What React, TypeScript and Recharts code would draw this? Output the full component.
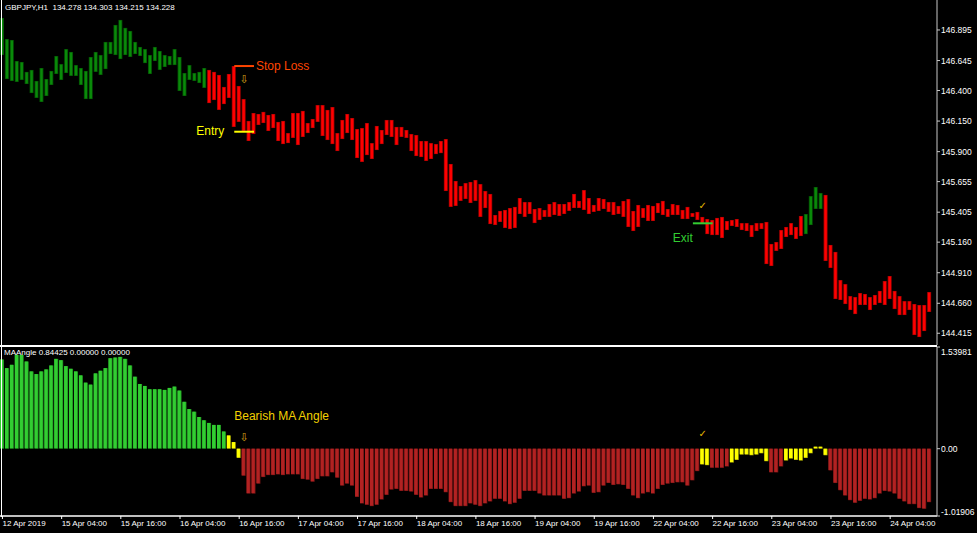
import React from "react";
import { ComposedChart, Bar, XAxis, YAxis, ReferenceLine, ReferenceDot } from "recharts";

// price bars (top / bottom of each H1 bar body)
const barTop = [
  146.993, 146.821, 146.813, 146.641, 146.633, 146.552, 146.568, 146.478, 146.584, 146.494,
  146.560, 146.682, 146.616, 146.739, 146.715, 146.608, 146.584, 146.560, 146.674, 146.715,
  146.690, 146.797, 146.797, 146.936, 146.977, 146.912, 146.887, 146.797, 146.756, 146.739,
  146.690, 146.756, 146.723, 146.690, 146.682, 146.739, 146.674, 146.543, 146.608, 146.543,
  146.552, 146.584, 146.568, 146.552, 146.527, 146.429, 146.535, 146.600, 146.437, 146.330,
  146.151, 146.216, 146.208, 146.225, 146.200, 146.208, 146.143, 146.151, 146.052, 146.216,
  146.216, 146.233, 146.134, 146.167, 146.281, 146.281, 146.241, 146.265, 146.052, 146.159,
  146.208, 146.175, 146.085, 146.093, 146.134, 145.970, 146.110, 146.077, 146.159, 146.159,
  146.102, 146.102, 146.077, 146.044, 146.036, 145.987, 145.987, 145.970, 145.962, 145.987,
  146.003, 145.799, 145.660, 145.619, 145.643, 145.652, 145.668, 145.635, 145.578, 145.554,
  145.382, 145.415, 145.423, 145.439, 145.448, 145.521, 145.488, 145.488, 145.431, 145.439,
  145.423, 145.472, 145.488, 145.472, 145.472, 145.488, 145.554, 145.497, 145.586, 145.521,
  145.464, 145.521, 145.513, 145.488, 145.488, 145.456, 145.497, 145.513, 145.415, 145.464,
  145.439, 145.464, 145.456, 145.480, 145.497, 145.431, 145.472, 145.464, 145.423, 145.448,
  145.398, 145.407, 145.366, 145.349, 145.341, 145.358, 145.366, 145.333, 145.341, 145.349,
  145.316, 145.316, 145.300, 145.316, 145.316, 145.325, 145.145, 145.161, 145.259, 145.284,
  145.316, 145.284, 145.374, 145.390, 145.537, 145.611, 145.562, 145.546, 145.137, 145.080,
  144.850, 144.817, 144.719, 144.711, 144.744, 144.736, 144.711, 144.728, 144.761, 144.842,
  144.883, 144.761, 144.719, 144.678, 144.678, 144.654, 144.646, 144.646, 144.752,
];
const barBottom = [
  146.690, 146.494, 146.478, 146.470, 146.486, 146.453, 146.379, 146.339, 146.306, 146.355,
  146.445, 146.535, 146.486, 146.543, 146.519, 146.519, 146.445, 146.330, 146.330, 146.552,
  146.527, 146.575, 146.698, 146.690, 146.657, 146.690, 146.674, 146.698, 146.682, 146.624,
  146.535, 146.641, 146.568, 146.592, 146.608, 146.608, 146.396, 146.355, 146.486, 146.478,
  146.461, 146.421, 146.297, 146.322, 146.241, 146.289, 146.339, 146.102, 146.143, 146.069,
  145.987, 146.044, 146.118, 146.134, 146.069, 146.093, 145.987, 145.962, 145.970, 146.012,
  145.954, 146.020, 146.052, 146.093, 146.143, 146.028, 145.995, 145.962, 145.905, 146.003,
  146.052, 145.995, 145.848, 145.816, 145.872, 145.840, 145.913, 145.962, 146.036, 146.020,
  145.954, 146.020, 146.012, 145.905, 145.864, 145.856, 145.824, 145.840, 145.880, 145.888,
  145.578, 145.448, 145.456, 145.497, 145.513, 145.480, 145.497, 145.366, 145.439, 145.308,
  145.300, 145.325, 145.276, 145.267, 145.276, 145.390, 145.366, 145.390, 145.316, 145.341,
  145.366, 145.366, 145.382, 145.374, 145.390, 145.415, 145.439, 145.439, 145.423, 145.390,
  145.407, 145.415, 145.431, 145.407, 145.382, 145.390, 145.366, 145.284, 145.251, 145.284,
  145.358, 145.333, 145.333, 145.398, 145.382, 145.366, 145.382, 145.382, 145.349, 145.349,
  145.366, 145.341, 145.308, 145.226, 145.218, 145.218, 145.194, 145.259, 145.292, 145.284,
  145.259, 145.251, 145.202, 145.251, 145.267, 144.981, 144.965, 145.088, 145.104, 145.202,
  145.218, 145.186, 145.210, 145.226, 145.300, 145.431, 145.431, 145.006, 144.949, 144.695,
  144.687, 144.654, 144.605, 144.572, 144.646, 144.646, 144.605, 144.646, 144.662, 144.646,
  144.695, 144.613, 144.564, 144.564, 144.605, 144.401, 144.384, 144.433, 144.589,
];
// colour runs of the price bars
const trendRuns: [string, number][] = [["up", 42], ["down", 121], ["up", 4], ["down", 22]];

// MA Angle histogram
const maAngle = [
  1.35, 1.22, 1.27, 1.42, 1.42, 1.32, 1.17, 1.13, 1.17, 1.20,
  1.26, 1.36, 1.34, 1.25, 1.21, 1.17, 1.11, 1.00, 0.97, 1.14,
  1.18, 1.22, 1.37, 1.38, 1.39, 1.36, 1.26, 1.09, 0.98, 0.95,
  0.90, 0.90, 0.90, 0.89, 0.92, 0.94, 0.88, 0.71, 0.60, 0.56,
  0.48, 0.43, 0.39, 0.36, 0.36, 0.26, 0.20, 0.10, -0.14, -0.41,
  -0.68, -0.68, -0.53, -0.43, -0.40, -0.40, -0.39, -0.40, -0.39, -0.39,
  -0.39, -0.46, -0.47, -0.50, -0.46, -0.42, -0.42, -0.36, -0.44, -0.56,
  -0.53, -0.56, -0.73, -0.83, -0.85, -0.87, -0.85, -0.77, -0.70, -0.62,
  -0.61, -0.64, -0.64, -0.65, -0.70, -0.74, -0.71, -0.61, -0.61, -0.61,
  -0.66, -0.81, -0.87, -0.87, -0.87, -0.83, -0.85, -0.87, -0.83, -0.80,
  -0.76, -0.76, -0.80, -0.84, -0.82, -0.76, -0.64, -0.64, -0.64, -0.68,
  -0.71, -0.71, -0.71, -0.71, -0.76, -0.75, -0.68, -0.65, -0.57, -0.56,
  -0.67, -0.66, -0.56, -0.52, -0.55, -0.54, -0.55, -0.61, -0.71, -0.75,
  -0.68, -0.66, -0.68, -0.61, -0.55, -0.53, -0.52, -0.51, -0.51, -0.56,
  -0.48, -0.34, -0.24, -0.25, -0.29, -0.29, -0.29, -0.27, -0.21, -0.17,
  -0.09, -0.09, -0.10, -0.09, -0.07, -0.19, -0.36, -0.36, -0.27, -0.18,
  -0.15, -0.17, -0.18, -0.14, -0.07, 0.03, 0.03, -0.10, -0.33, -0.52,
  -0.63, -0.71, -0.78, -0.82, -0.79, -0.76, -0.77, -0.75, -0.68, -0.64,
  -0.65, -0.68, -0.76, -0.80, -0.84, -0.84, -0.90, -0.91, -0.81,
];
const maRuns: [string, number][] = [
  ["G", 46], ["Y", 3], ["R", 93], ["Y", 2], ["R", 4], ["Y", 8], ["R", 3], ["Y", 9], ["R", 21],
];

const timeLabels = [
  "12 Apr 2019", "15 Apr 04:00", "15 Apr 16:00", "16 Apr 04:00", "16 Apr 16:00", "17 Apr 04:00",
  "17 Apr 16:00", "18 Apr 04:00", "18 Apr 16:00", "19 Apr 04:00", "19 Apr 16:00", "22 Apr 04:00",
  "22 Apr 16:00", "23 Apr 04:00", "23 Apr 16:00", "24 Apr 04:00",
];
const priceTicks = [146.895, 146.645, 146.4, 146.15, 145.9, 145.655, 145.405, 145.16, 144.91, 144.66, 144.415];
const maTicks = [1.53981, 0, -1.01906];

const expand = (runs: [string, number][]) => runs.flatMap(([k, n]) => Array(n).fill(k));
const trend = expand(trendRuns);
const maState = expand(maRuns);

// one empty slot at the end, like the terminal's right shift
const data = Array.from({ length: barTop.length + 1 }, (_, i) =>
  i < barTop.length
    ? { i, range: [barBottom[i], barTop[i]], trend: trend[i], ma: maAngle[i], state: maState[i] }
    : { i, range: null, trend: null, ma: null, state: null }
);
const labelIdx = timeLabels.map((_, k) => k * 12);

const FONT = "Liberation Sans, Arial, sans-serif";
const priceColors = { up: ["#0a8a0a", "#034d03"], down: ["#ff0000", "#a00000"] };
const maColors = { G: ["#32cd32", "#1f8f1f"], Y: ["#ffff00", "#a8a800"], R: ["#b22222", "#741414"] };

const PriceBar = (p: any) => {
  let { x, y, width, height, payload } = p;
  if (height == null || !payload || !payload.trend) return null;
  if (height < 0) { y += height; height = -height; }
  const c = priceColors[payload.trend];
  return (
    <g>
      <rect x={x} y={y} width={width} height={Math.max(height, 1)} fill={c[1]} />
      <rect x={x + 0.8} y={y + 0.5} width={width - 1.6} height={Math.max(height - 1, 1)} fill={c[0]} />
    </g>
  );
};

const MaBar = (p: any) => {
  let { x, y, width, height, payload } = p;
  if (height == null || !payload || !payload.state) return null;
  if (height < 0) { y += height; height = -height; }
  const c = maColors[payload.state];
  return (
    <g>
      <rect x={x} y={y} width={width} height={Math.max(height, 1)} fill={c[1]} />
      <rect x={x} y={y} width={width - 0.8} height={Math.max(height - 0.5, 1)} fill={c[0]} />
    </g>
  );
};

const MaTick = ({ x, y, payload }: any) => {
  const v = payload.value;
  const dy = v > 1 ? 5 : v < -1 ? -4 : 0;
  const txt = v === 0 ? "0.00" : v.toFixed(5);
  return (
    <text x={x} y={y + dy} dy={3} fill="#fff" fontSize={8.5} fontFamily={FONT} textAnchor="start">
      {txt}
    </text>
  );
};

const TimeTick = ({ x, y, payload }: any) => (
  <text x={x} y={y + 6} fill="#fff" fontSize={8} fontFamily={FONT} textAnchor="start">
    {timeLabels[payload.value / 12]}
  </text>
);

const glyph = (ch: string, color: string, size = 11) => (p: any) => (
  <text x={p.cx} y={p.cy} dy={4} fill={color} fontSize={size} textAnchor="middle" fontFamily="DejaVu Sans">
    {ch}
  </text>
);

const App = () => {
  return (
    <div style={{ position: "relative", width: 977, height: 533, background: "#000", overflow: "hidden" }}>
      <style>{`body{margin:0;background:#000}`}</style>

      <ComposedChart width={977} height={346} data={data} margin={{ top: 0, right: 0, left: 0, bottom: 1 }} barGap={0}>
        <XAxis dataKey="i" hide />
        <YAxis
          orientation="right"
          width={40}
          domain={[144.319, 147.14]}
          allowDataOverflow
          ticks={priceTicks}
          interval={0}
          tickFormatter={(v) => v.toFixed(3)}
          tick={{ fill: "#fff", fontSize: 8.5, fontFamily: FONT }}
          tickSize={3}
          tickMargin={1}
          axisLine={{ stroke: "#c8c8c8" }}
          tickLine={{ stroke: "#c8c8c8" }}
        />
        <Bar dataKey="range" barSize={4} shape={PriceBar} isAnimationActive={false} />
        <ReferenceLine
          segment={[{ x: 47, y: 146.6 }, { x: 51, y: 146.6 }]}
          stroke="#ff4500"
          strokeWidth={2}
          label={(p: any) => (
            <text x={p.viewBox.x + p.viewBox.width + 2} y={p.viewBox.y + 4} fill="#ff4500" fontSize={12} fontFamily={FONT}>
              Stop Loss
            </text>
          )}
        />
        <ReferenceLine
          segment={[{ x: 47, y: 146.063 }, { x: 51, y: 146.063 }]}
          stroke="#ffff00"
          strokeWidth={2}
          label={(p: any) => (
            <text x={p.viewBox.x - 10} y={p.viewBox.y + 3} fill="#ffff00" fontSize={12} fontFamily={FONT} textAnchor="end">
              Entry
            </text>
          )}
        />
        <ReferenceLine
          segment={[{ x: 140, y: 145.314 }, { x: 144, y: 145.314 }]}
          stroke="#32cd32"
          strokeWidth={2}
          label={(p: any) => (
            <text x={p.viewBox.x} y={p.viewBox.y + 19} fill="#32cd32" fontSize={12} fontFamily={FONT} textAnchor="end">
              Exit
            </text>
          )}
        />
        <ReferenceDot x={49} y={146.49} shape={glyph("⇩", "#d4a017")} />
        <ReferenceDot x={142} y={145.464} shape={glyph("✓", "#e6b800", 10)} />
      </ComposedChart>

      <ComposedChart width={977} height={187} data={data} margin={{ top: 1, right: 0, left: 0, bottom: 0 }} barGap={0}>
        <XAxis
          dataKey="i"
          ticks={labelIdx}
          interval={0}
          tick={<TimeTick />}
          tickSize={3}
          tickMargin={1}
          height={17}
          axisLine={{ stroke: "#fff", strokeWidth: 1.5 }}
          tickLine={{ stroke: "#fff" }}
        />
        <YAxis
          orientation="right"
          width={40}
          domain={[-1.01906, 1.53981]}
          allowDataOverflow
          ticks={maTicks}
          interval={0}
          tick={<MaTick />}
          tickSize={3}
          tickMargin={1}
          axisLine={{ stroke: "#c8c8c8" }}
          tickLine={{ stroke: "#c8c8c8" }}
        />
        <Bar dataKey="ma" barSize={4} shape={MaBar} isAnimationActive={false} />
        <ReferenceDot
          x={47}
          y={0.5}
          shape={(p: any) => (
            <text x={p.cx} y={p.cy + 4} fill="#f2d000" fontSize={12} fontFamily={FONT}>
              Bearish MA Angle
            </text>
          )}
        />
        <ReferenceDot x={49} y={0.18} shape={glyph("⇩", "#d4a017")} />
        <ReferenceDot x={142} y={0.24} shape={glyph("✓", "#e6b800", 10)} />
      </ComposedChart>

      {/* window frame */}
      <div style={{ position: "absolute", left: 1, top: 0, width: 1, height: 517, background: "#fff" }} />
      <div style={{ position: "absolute", left: 0, top: 345, width: 937, height: 2, background: "#fff" }} />

      <div style={{ position: "absolute", left: 5, top: 3, color: "#fff", fontSize: 8, fontFamily: FONT, whiteSpace: "pre" }}>
        GBPJPY,H1  134.278 134.303 134.215 134.228
      </div>
      <div style={{ position: "absolute", left: 4, top: 348, color: "#fff", fontSize: 8, fontFamily: FONT, whiteSpace: "pre" }}>
        MAAngle 0.84425 0.00000 0.00000
      </div>
    </div>
  );
};

export default App;
